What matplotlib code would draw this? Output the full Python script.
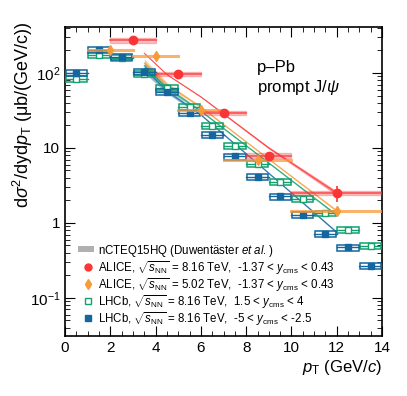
import numpy as np
import matplotlib
matplotlib.use('Agg')
import matplotlib.pyplot as plt
from matplotlib.patches import Rectangle

plt.rcParams['font.family'] = ['Liberation Sans', 'DejaVu Sans']
plt.rcParams['mathtext.fontset'] = 'custom'
plt.rcParams['mathtext.rm'] = 'Liberation Sans'
plt.rcParams['mathtext.it'] = 'Liberation Sans:italic'
plt.rcParams['mathtext.bf'] = 'Liberation Sans:bold'

# ALICE 8.16 TeV, -1.37 < y < 0.43
alice8_lo = [2, 4, 6, 8, 10]
alice8_hi = [4, 6, 8, 10, 14]
alice8_x = [3, 5, 7, 9, 12]
alice8_y = [273, 97, 29.3, 7.9, 2.5]
alice8_err = [0.06, 0.06, 0.08, 0.12, 0.25]

# ALICE 5.02 TeV, -1.37 < y < 0.43
alice5_lo = [1, 3, 5, 7, 10]
alice5_hi = [3, 5, 7, 10, 14]
alice5_x = [2, 4, 6, 8.5, 12]
alice5_y = [203, 170, 32, 6.8, 1.45]
alice5_err = [0.04, 0.04, 0.05, 0.06, 0.12]

# LHCb 8.16 TeV, 1.5 < y < 4 (forward, open squares)
lhcbf_lo = [0, 1, 2, 3, 4, 5, 6, 7, 8, 9, 10, 11, 12, 13]
lhcbf_y = [84, 174, 157, 98, 63.6, 34.9, 19.7, 10.6, 6.06, 3.56, 2.07, 1.34, 0.81, 0.49]

# LHCb 8.16 TeV, -5 < y < -2.5 (backward, filled squares)
lhcbb_lo = [0, 1, 2, 3, 4, 5, 6, 7, 8, 9, 10, 11, 12, 13]
lhcbb_y = [101, 203, 165, 104, 56, 29, 14.9, 7.7, 4.07, 2.25, 1.27, 0.71, 0.47, 0.265]

# nCTEQ15HQ calculations
th_pt = [3.5, 4.5, 6, 9, 12]
th_alice8 = [183, 95, 48, 10, 2.5]
th_alice5 = [135, 70, 35, 7.1, 1.45]
th_lhcbf = [125, 63, 31, 6.3, 1.27]
th_lhcbb = [115, 57, 27.6, 4.6, 0.75]
th_w_alice8 = [0.004, 0.005, 0.008, 0.015, 0.03]
th_w_other = [0.06, 0.03, 0.012, 0.01, 0.014]

legend_labels = [
    r'nCTEQ15HQ (Duwentäster $\it{et\ al.}$)',
    r'ALICE, $\sqrt{s_{\rm NN}}$ = 8.16 TeV,  -1.37 < $y_{\rm cms}$ < 0.43',
    r'ALICE, $\sqrt{s_{\rm NN}}$ = 5.02 TeV,  -1.37 < $y_{\rm cms}$ < 0.43',
    r'LHCb, $\sqrt{s_{\rm NN}}$ = 8.16 TeV,  1.5 < $y_{\rm cms}$ < 4',
    r'LHCb, $\sqrt{s_{\rm NN}}$ = 8.16 TeV,  -5 < $y_{\rm cms}$ < -2.5',
]

c_red = '#fa3535'
c_orange = '#f79a3a'
c_green = '#12a06e'
c_blue = '#14669f'

fig = plt.figure(figsize=(4.07, 3.96), dpi=100)
ax = fig.add_axes([0.160, 0.1515, 0.7786, 0.7803])
ax.set_yscale('log')


def band(pt, val, w, color, alpha):
    pt = np.array(pt)
    lv = np.log10(val)
    w = np.array(w)
    ax.fill_between(pt, 10**(lv - w), 10**(lv + w), color=color, alpha=alpha, lw=0)
    ax.plot(pt, val, color=color, lw=0.8, alpha=0.8)


band(th_pt, th_lhcbb, th_w_other, c_blue, 0.45)
band(th_pt, th_lhcbf, th_w_other, c_green, 0.45)
band(th_pt, th_alice5, th_w_other, c_orange, 0.45)
band(th_pt, th_alice8, th_w_alice8, c_red, 0.5)

# LHCb boxes
s = 0.09
for lo, y in zip(lhcbf_lo, lhcbf_y):
    ax.add_patch(Rectangle((lo + 0.03, y * (1 - s)), 0.94, y * 2 * s, fc='none', ec=c_green, lw=1.1, zorder=3))
    ax.plot([lo, lo + 1], [y, y], color=c_green, lw=1.0, zorder=3)
ax.plot(np.array(lhcbf_lo) + 0.5, lhcbf_y, 's', ms=4.5, mfc='white', mec=c_green, mew=1.0, ls='none', zorder=4)

for lo, y in zip(lhcbb_lo, lhcbb_y):
    ax.add_patch(Rectangle((lo + 0.03, y * (1 - s)), 0.94, y * 2 * s, fc='none', ec=c_blue, lw=1.1, zorder=3))
    ax.plot([lo, lo + 1], [y, y], color=c_blue, lw=1.0, zorder=3)
ax.plot(np.array(lhcbb_lo) + 0.5, lhcbb_y, 's', ms=4.5, color=c_blue, ls='none', zorder=4)

# ALICE 5.02
for lo, hi, y in zip(alice5_lo, alice5_hi, alice5_y):
    ax.plot([lo, hi], [y, y], color=c_orange, lw=2.2, alpha=0.75, zorder=5)
e5 = np.array(alice5_y) * np.array(alice5_err)
ax.errorbar(alice5_x, alice5_y, yerr=[e5, e5], fmt='d', ms=5, color=c_orange, lw=1, ls='none', zorder=6)

# ALICE 8.16
for lo, hi, y in zip(alice8_lo, alice8_hi, alice8_y):
    ax.add_patch(Rectangle((lo, y * 0.93), hi - lo, y * 0.14, fc=c_red, alpha=0.3, ec=c_red, lw=1, zorder=5))
    ax.plot([lo, hi], [y, y], color=c_red, lw=1.2, alpha=0.8, zorder=5)
e8 = np.array(alice8_y) * np.array(alice8_err)
ax.errorbar(alice8_x, alice8_y, yerr=[e8, e8], fmt='o', ms=6, color=c_red, lw=1.2, ls='none', zorder=7)

ax.set_xlim(0, 14)
ax.set_ylim(0.031, 410)
ax.set_xticks(np.arange(0, 15, 2))
ax.set_xticks(np.arange(0, 14.1, 0.5), minor=True)
ax.tick_params(which='both', direction='in', top=True, right=True, labelsize=11)
ax.tick_params(which='major', length=7)
ax.tick_params(which='minor', length=3.5)
ax.set_yticks([0.1, 1, 10, 100])
ax.set_yticklabels([r'$10^{-1}$', '1', '10', r'$10^{2}$'])
for sp in ax.spines.values():
    sp.set_linewidth(1.2)

ax.set_xlabel(r'$p_{\rm T}$ (GeV/$c$)', fontsize=12, loc='right', labelpad=2)
fig.text(23 / 407, 1 - 21 / 396, r'd$\sigma^2$/dyd$p_{\rm T}$ (μb/(GeV/c))', fontsize=13,
         rotation=90, ha='center', va='top')

ax.text(0.605, 0.855, 'p\u2013Pb', transform=ax.transAxes, fontsize=12)
ax.text(0.605, 0.79, r'prompt J/$\psi$', transform=ax.transAxes, fontsize=12)

# legend drawn by hand to match row spacing
rows_y = [0.2816, 0.2249, 0.1683, 0.1133, 0.0583]
ax.add_patch(Rectangle((0.041, rows_y[0] - 0.011), 0.05, 0.022, transform=ax.transAxes, fc='#b0b0b0', ec='none', zorder=8))
ax.plot(0.0726, rows_y[1], 'o', color=c_red, ms=5, transform=ax.transAxes, zorder=8)
ax.plot(0.0726, rows_y[2], 'd', color=c_orange, ms=5, transform=ax.transAxes, zorder=8)
ax.plot(0.0726, rows_y[3], 's', mfc='white', mec=c_green, ms=5, transform=ax.transAxes, zorder=8)
ax.plot(0.0726, rows_y[4], 's', color=c_blue, ms=5, transform=ax.transAxes, zorder=8)
for ry, lab in zip(rows_y, legend_labels):
    ax.text(0.103, ry - 0.0165, lab, transform=ax.transAxes, fontsize=8.3, va='baseline', ha='left', zorder=8)

fig.savefig('out.png', dpi=100)
